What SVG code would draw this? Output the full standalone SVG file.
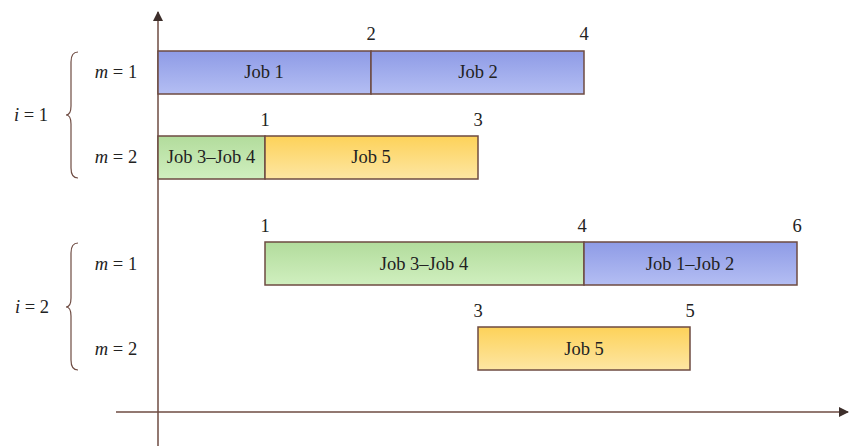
<svg xmlns="http://www.w3.org/2000/svg" width="850" height="446" viewBox="0 0 850 446" font-family="'Liberation Serif', serif" font-size="18.5">
<defs>
<linearGradient id="gBlue" x1="0" y1="0" x2="0" y2="1"><stop offset="0" stop-color="#8e9be6"/><stop offset="1" stop-color="#b4bef3"/></linearGradient>
<linearGradient id="gGreen" x1="0" y1="0" x2="0" y2="1"><stop offset="0" stop-color="#b2dc9c"/><stop offset="1" stop-color="#d0efbf"/></linearGradient>
<linearGradient id="gYellow" x1="0" y1="0" x2="0" y2="1"><stop offset="0" stop-color="#fdd259"/><stop offset="1" stop-color="#fde6a3"/></linearGradient>
<marker id="arr" markerWidth="10" markerHeight="10" refX="9" refY="5" orient="auto" markerUnits="userSpaceOnUse"><path d="M0,0 L10,5 L0,10 Z" fill="#3d2f2b"/></marker>
<style>
.bar{stroke:#6e4b42;stroke-width:1.5}
.ax{stroke:#6e4b42;stroke-width:1.5;fill:none}
.br{stroke:#6e4b42;stroke-width:1.2;fill:none}
text{font-family:'Liberation Serif',serif;font-size:18.5px;fill:#222}
.c{text-anchor:middle}
</style>
</defs>
<g id="connectors">
<line class="ax" x1="158" y1="446" x2="158" y2="12" marker-end="url(#arr)"/>
<line class="ax" x1="116" y1="412" x2="848" y2="412" marker-end="url(#arr)"/>
</g>
<g id="brace-i1">
<path class="br" d="M78,52 Q71,52 71,62 L71,106 Q71,115 66,115 Q71,115 71,124 L71,168 Q71,178 78,178"/>
<text x="31" y="121" class="c"><tspan font-style="italic">i</tspan> = 1</text>
</g>
<g id="brace-i2">
<path class="br" d="M78,243 Q71,243 71,253 L71,298 Q71,307 66,307 Q71,307 71,316 L71,360 Q71,370 78,370"/>
<text x="32" y="313" class="c"><tspan font-style="italic">i</tspan> = 2</text>
</g>
<g id="labels-m">
<text x="116" y="78" class="c"><tspan font-style="italic">m</tspan> = 1</text>
<text x="116" y="163" class="c"><tspan font-style="italic">m</tspan> = 2</text>
<text x="116" y="270" class="c"><tspan font-style="italic">m</tspan> = 1</text>
<text x="116" y="355" class="c"><tspan font-style="italic">m</tspan> = 2</text>
</g>
<g id="job1-r1">
<rect class="bar" x="158" y="51" width="213" height="43" fill="url(#gBlue)"/>
<text x="264" y="78" class="c">Job 1</text>
</g>
<g id="job2-r1">
<rect class="bar" x="371" y="51" width="213" height="43" fill="url(#gBlue)"/>
<text x="478" y="78" class="c">Job 2</text>
</g>
<g id="job34-r2">
<rect class="bar" x="158" y="136" width="107" height="43" fill="url(#gGreen)"/>
<text x="211" y="163" class="c">Job 3–Job 4</text>
</g>
<g id="job5-r2">
<rect class="bar" x="265" y="136" width="213" height="43" fill="url(#gYellow)"/>
<text x="371" y="163" class="c">Job 5</text>
</g>
<g id="job34-r3">
<rect class="bar" x="265" y="242" width="319" height="43" fill="url(#gGreen)"/>
<text x="424" y="270" class="c">Job 3–Job 4</text>
</g>
<g id="job12-r3">
<rect class="bar" x="584" y="242" width="213" height="43" fill="url(#gBlue)"/>
<text x="690" y="270" class="c">Job 1–Job 2</text>
</g>
<g id="job5-r4">
<rect class="bar" x="478" y="327" width="212" height="43" fill="url(#gYellow)"/>
<text x="584" y="355" class="c">Job 5</text>
</g>
<g id="ticks">
<text x="371" y="40" class="c">2</text>
<text x="584" y="40" class="c">4</text>
<text x="265" y="126" class="c">1</text>
<text x="478" y="126" class="c">3</text>
<text x="265" y="232" class="c">1</text>
<text x="582" y="232" class="c">4</text>
<text x="797" y="232" class="c">6</text>
<text x="478" y="317" class="c">3</text>
<text x="690" y="317" class="c">5</text>
</g>
</svg>
